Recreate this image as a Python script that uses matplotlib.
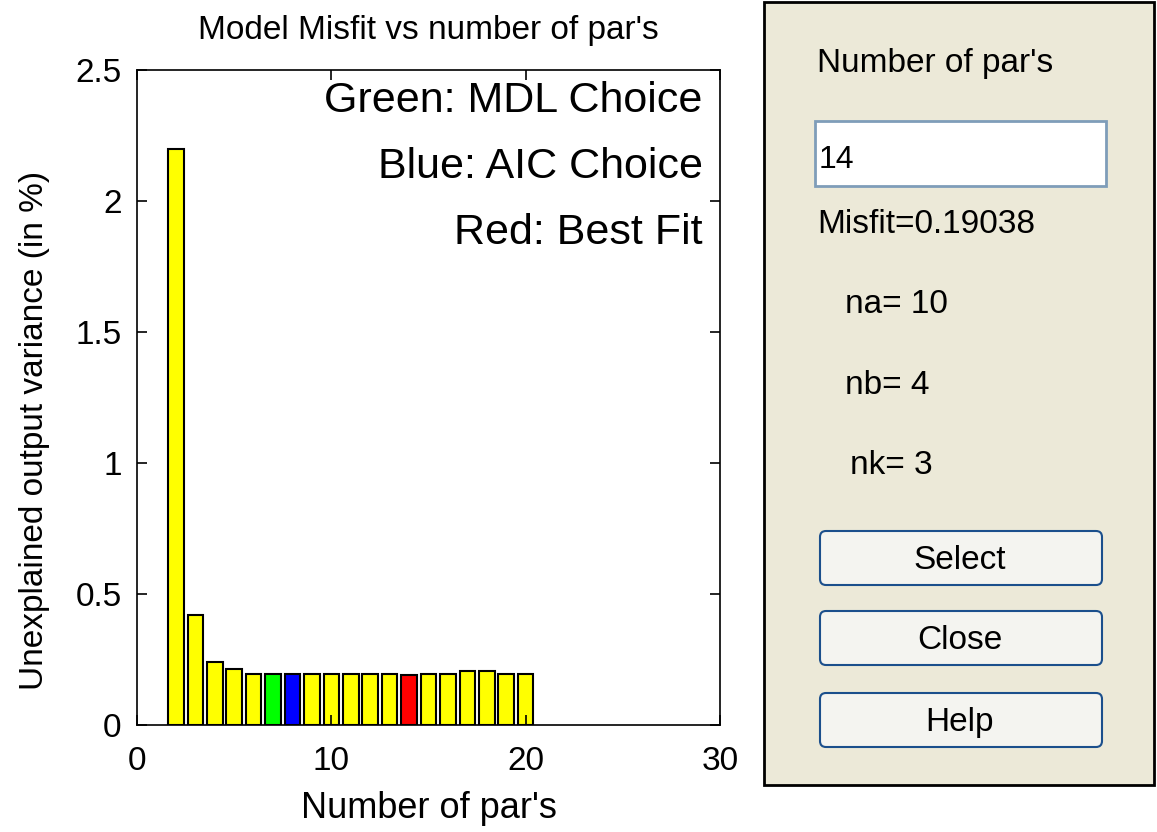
import matplotlib.pyplot as plt
from matplotlib.patches import Rectangle, FancyBboxPatch

plt.rcParams['font.family'] = ['Liberation Sans', 'DejaVu Sans']

# Data
n_pars = list(range(2, 21))
misfit = [2.20, 0.42, 0.24, 0.215, 0.195, 0.195, 0.195, 0.195, 0.195, 0.195,
          0.195, 0.195, 0.19, 0.195, 0.195, 0.205, 0.205, 0.195, 0.195]
mdl_choice = 7
aic_choice = 8
best_fit = 14

colors = []
for n in n_pars:
    if n == mdl_choice:
        colors.append('#00FF00')
    elif n == aic_choice:
        colors.append('#0000FF')
    elif n == best_fit:
        colors.append('#FF0000')
    else:
        colors.append('#FFFF00')

W, H = 1157, 832
fig = plt.figure(figsize=(W / 100, H / 100), dpi=100)
fig.patch.set_facecolor('white')

# Bar chart axes (pixel box 137..720 x 70..725)
ax = fig.add_axes([137 / W, 1 - 725 / H, (720 - 137) / W, (725 - 70) / H])
ax.bar(n_pars, misfit, width=0.8, color=colors, edgecolor='black', linewidth=1.5)
ax.set_xlim(0, 30)
ax.set_ylim(0, 2.5)
ax.set_xticks([0, 10, 20, 30])
ax.set_yticks([0, 0.5, 1, 1.5, 2, 2.5])
ax.set_yticklabels(['0', '0.5', '1', '1.5', '2', '2.5'])
ax.tick_params(direction='in', top=True, right=True, length=7, width=1.2, labelsize=24)
ax.tick_params(axis='x', pad=15)
ax.tick_params(axis='y', pad=11)
for s in ax.spines.values():
    s.set_linewidth(1.2)
ax.set_title("Model Misfit vs number of par's", fontsize=24, pad=22)
ax.set_xlabel("Number of par's", fontsize=26, labelpad=10)
ax.set_ylabel("Unexplained output variance (in %)", fontsize=24)
ax.yaxis.set_label_coords(-0.15, 0.45)

ax.text(0.97, 0.936, "Green: MDL Choice", transform=ax.transAxes, ha='right', va='baseline', fontsize=31)
ax.text(0.97, 0.835, "Blue: AIC Choice", transform=ax.transAxes, ha='right', va='baseline', fontsize=31)
ax.text(0.97, 0.734, "Red: Best Fit", transform=ax.transAxes, ha='right', va='baseline', fontsize=31)

# Control panel (pixel coordinates)
pan = fig.add_axes([0, 0, 1, 1])
pan.set_xlim(0, W)
pan.set_ylim(H, 0)
pan.axis('off')
pan.add_patch(Rectangle((764, 2), 390, 783, facecolor='#ECE9D8', edgecolor='black', linewidth=2))
pan.text(817, 72, "Number of par's", fontsize=24, va='baseline', ha='left')
pan.add_patch(Rectangle((815, 121), 291, 65, facecolor='white', edgecolor='#7F9DB9', linewidth=2))
pan.text(819, 168, "14", fontsize=23, va='baseline', ha='left')
pan.text(817, 233, "Misfit=0.19038", fontsize=24, va='baseline', ha='left')
pan.text(845, 313, "na= 10", fontsize=24, va='baseline', ha='left')
pan.text(845, 394, "nb= 4", fontsize=24, va='baseline', ha='left')
pan.text(850, 474, "nk= 3", fontsize=24, va='baseline', ha='left')

for label, y0 in [("Select", 531), ("Close", 611), ("Help", 693)]:
    pan.add_patch(FancyBboxPatch((820, y0), 282, 54, boxstyle="round,pad=0,rounding_size=6",
                                 facecolor='#F4F4F0', edgecolor='#1B4F8C', linewidth=1.5))
    pan.text(960, y0 + 38, label, fontsize=24, va='baseline', ha='center')

fig.savefig('out.png', dpi=100)
